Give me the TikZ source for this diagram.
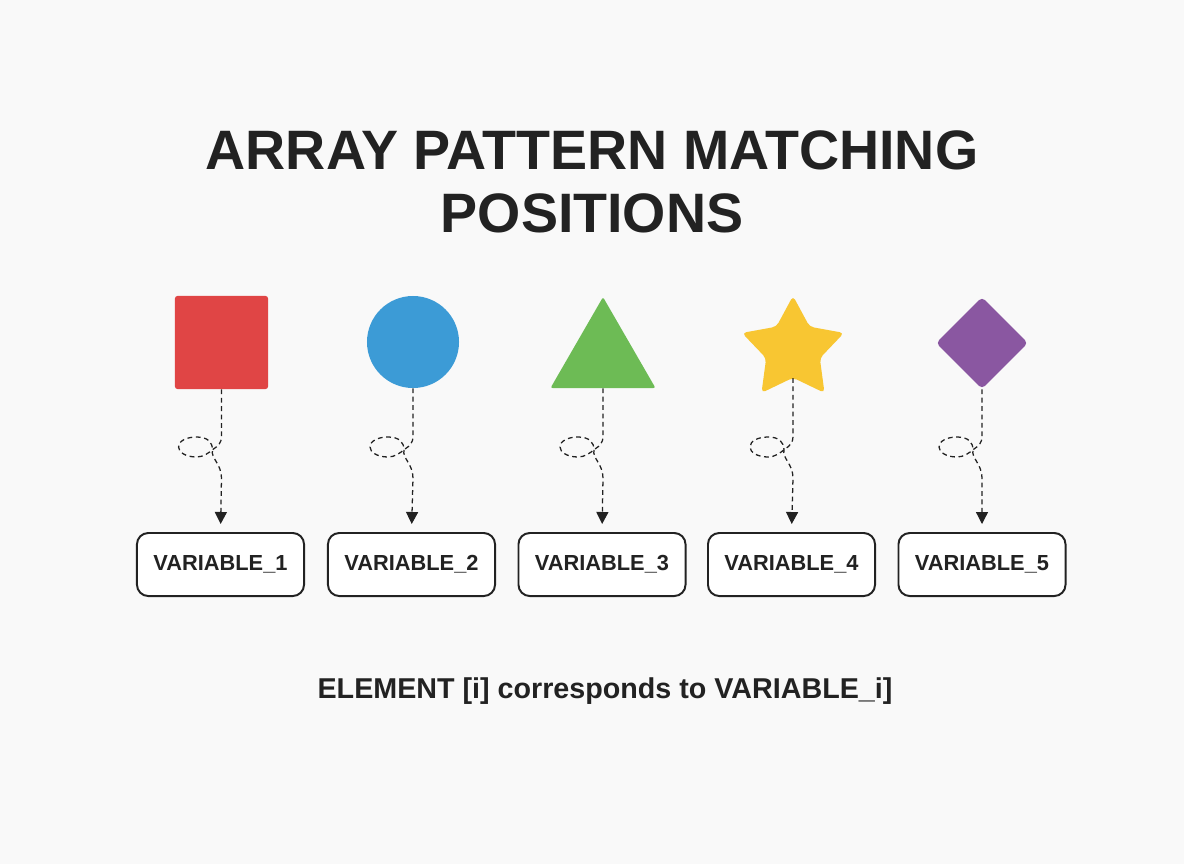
\documentclass[tikz,border=0pt]{standalone}
\usepackage{fontspec}
\setmainfont{Liberation Sans}
\usepackage{tikz}
\usetikzlibrary{shapes.geometric, arrows.meta, positioning}
\definecolor{ink}{HTML}{222222}
\definecolor{bgpaper}{HTML}{F9F9F9}
\definecolor{shred}{HTML}{E04545}
\definecolor{shblue}{HTML}{3C9BD6}
\definecolor{shgreen}{HTML}{6DBB55}
\definecolor{shyellow}{HTML}{F8C632}
\definecolor{shpurple}{HTML}{8A57A1}
\tikzstyle{title} = [text=ink, font=\fontsize{39.5}{45}\selectfont\bfseries, align=center]
\tikzstyle{varbox} = [rectangle, rounded corners=8pt, minimum width=4.175cm, minimum height=1.575cm, text centered, draw=ink, line width=1.4pt, fill=white, text=ink, font=\fontsize{15.5}{18}\selectfont\bfseries]
\tikzstyle{square} = [rectangle, rounded corners=2pt, minimum size=2.33cm, inner sep=0pt, fill=shred]
\tikzstyle{disc} = [circle, minimum size=2.3cm, inner sep=0pt, fill=shblue]
\tikzstyle{tri} = [regular polygon, regular polygon sides=3, rounded corners=1.5pt, minimum size=3.03cm, inner sep=0pt, fill=shgreen]
\tikzstyle{starshape} = [star, star points=5, star point ratio=1.9, rounded corners=3pt, minimum size=2.68cm, inner sep=0pt, fill=shyellow]
\tikzstyle{gem} = [diamond, rounded corners=3pt, minimum width=2.3cm, minimum height=2.3cm, inner sep=0pt, fill=shpurple]
\tikzstyle{arrow} = [ink, line width=0.9pt, dash pattern=on 1.2mm off 0.9mm, -{Triangle[length=3mm, width=3mm]}, shorten >=2mm]
\tikzstyle{note} = [text=ink, font=\fontsize{20.4}{24}\selectfont\bfseries]
% curly dashed link from a shape down to its box
\newcommand{\curlto}[2]{
\draw [arrow] (#1.south) -- (#1.south |- 0,437)
  .. controls +(0,5) and +(5,-3) .. ++(-8,12)
  .. controls +(-5,4) and +(7,0) .. ++(-17,8)
  .. controls +(-11,0) and +(0,5) .. ++(-18,-10)
  .. controls +(0,-6) and +(-10,0) .. ++(18,-10)
  .. controls +(11,0) and +(0,-8) .. ++(16,13)
  .. controls +(-2,8) and +(0,-14) .. ++(9,28)
  -- (#2.north);
}

\begin{document}
\begin{tikzpicture}[x=0.025cm, y=-0.025cm]
\fill [bgpaper] (0,0) rectangle (1184,864);
\useasboundingbox (0,0) rectangle (1184,864);

\node (title) [title] at (592,182) {ARRAY PATTERN MATCHING\\POSITIONS};

\node (sq) [square] at (221.5,342.5) {};
\node (ci) [disc] at (413,342) {};
\node (tr) [tri] at (603,357.7) {};
\node (st) [starshape] at (793,349.5) {};
\node (di) [gem] at (982,343) {};

\node (v1) [varbox] at (220.5,564.5) {VARIABLE\_1};
\node (v2) [varbox] at (411.5,564.5) {VARIABLE\_2};
\node (v3) [varbox] at (602,564.5) {VARIABLE\_3};
\node (v4) [varbox] at (791.5,564.5) {VARIABLE\_4};
\node (v5) [varbox] at (982,564.5) {VARIABLE\_5};

\curlto{sq}{v1}
\curlto{ci}{v2}
\curlto{tr}{v3}
\curlto{st}{v4}
\curlto{di}{v5}

\node (caption) [note] at (605,691) {ELEMENT [i] corresponds to VARIABLE\_i]};

\end{tikzpicture}
\end{document}
